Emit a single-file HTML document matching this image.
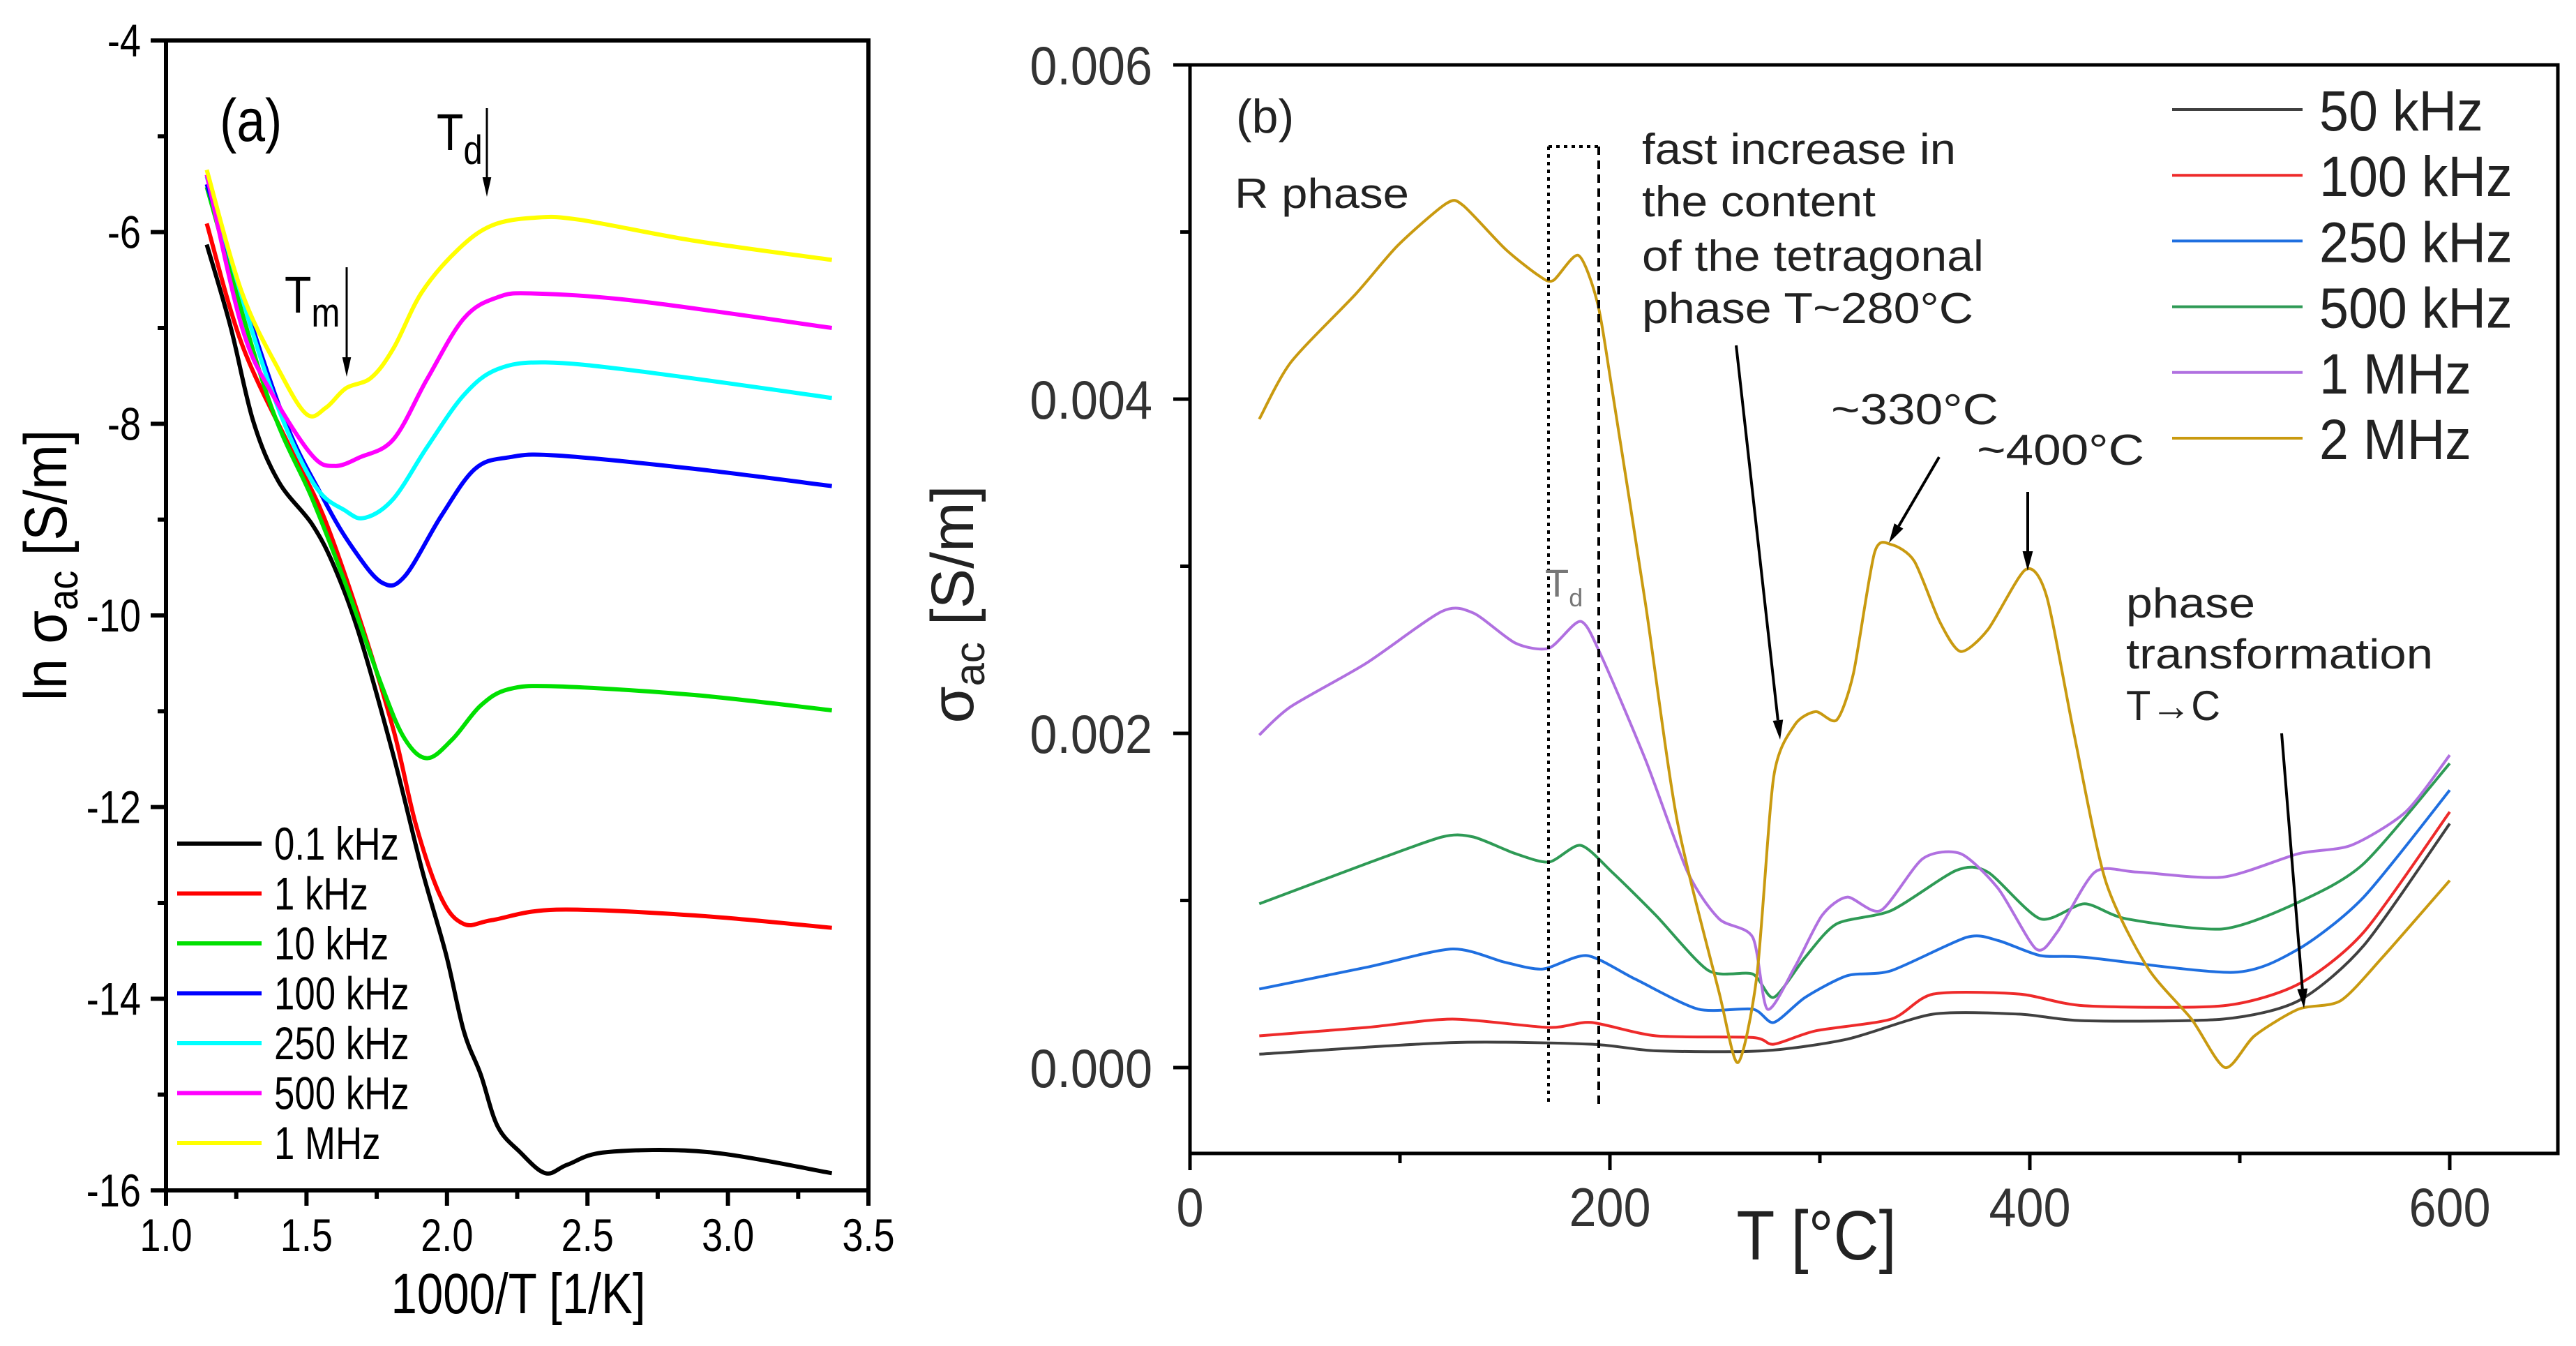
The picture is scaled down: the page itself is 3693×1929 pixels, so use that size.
<!DOCTYPE html>
<html><head><meta charset="utf-8"><style>
html,body{margin:0;padding:0;background:#fff;}
svg{display:block;font-family:"Liberation Sans",sans-serif;}
</style></head><body>
<svg id="fig" width="3693" height="1929" viewBox="0 0 3693 1929" xmlns="http://www.w3.org/2000/svg">
<rect width="3693" height="1929" fill="#fff"/>
<g id="pa"></g>
<g id="pb"></g>
</svg>
<script>
// ---------- Panel (a) data ----------
const aSeriesNames = ["0.1 kHz","1 kHz","10 kHz","100 kHz","250 kHz","500 kHz","1 MHz"];
const aColors = ["#000000","#ff0000","#00e000","#0000ff","#00ffff","#ff00ff","#ffff00"];
const aXTicks = [1.0,1.5,2.0,2.5,3.0,3.5];
const aYTicks = [-4,-6,-8,-10,-12,-14,-16];
const aBlackX = [1.145,1.23,1.31,1.40,1.52,1.60,1.69,1.81,1.91,1.996,2.06,2.12,2.18,2.26,2.35,2.43,2.57,2.93,3.37];
const aBlackY = [-6.13,-6.99,-7.97,-8.6,-9.05,-9.5,-10.22,-11.47,-12.64,-13.53,-14.34,-14.79,-15.33,-15.6,-15.82,-15.73,-15.6,-15.6,-15.82];
const aRedX = [1.145,1.27,1.44,1.56,1.69,1.81,1.89,1.98,2.06,2.16,2.39,2.88,3.37];
const aRedY = [-5.91,-7.17,-8.24,-8.96,-10.04,-11.2,-12.19,-12.95,-13.22,-13.18,-13.07,-13.13,-13.26];
const aGreenX = [1.145,1.36,1.52,1.64,1.77,1.85,1.93,2.02,2.12,2.22,2.39,2.88,3.37];
const aGreenY = [-5.53,-7.70,-8.78,-9.68,-10.75,-11.29,-11.49,-11.29,-10.94,-10.77,-10.74,-10.83,-10.99];
const aBlueX = [1.145,1.40,1.56,1.67,1.77,1.85,1.98,2.10,2.22,2.39,2.88,3.37];
const aBlueY = [-5.5,-7.79,-8.78,-9.32,-9.66,-9.59,-8.96,-8.47,-8.35,-8.33,-8.47,-8.65];
const aCyanX = [1.145,1.36,1.52,1.64,1.71,1.81,1.93,2.06,2.18,2.35,2.68,3.37];
const aCyanY = [-5.42,-7.52,-8.6,-8.91,-8.98,-8.78,-8.24,-7.70,-7.43,-7.36,-7.45,-7.73];
const aMagX = [1.145,1.27,1.38,1.52,1.60,1.69,1.81,1.93,2.06,2.18,2.31,2.68,3.37];
const aMagY = [-5.4,-6.99,-7.70,-8.33,-8.44,-8.35,-8.16,-7.53,-6.90,-6.68,-6.64,-6.72,-7.0];
const aYelX = [1.145,1.27,1.40,1.50,1.57,1.64,1.73,1.81,1.91,2.04,2.16,2.31,2.47,2.88,3.37];
const aYelY = [-5.35,-6.63,-7.43,-7.9,-7.83,-7.63,-7.52,-7.21,-6.63,-6.18,-5.93,-5.85,-5.87,-6.09,-6.29];

// ---------- Panel (b) data ----------
const bSeriesNames = ["50 kHz","100 kHz","250 kHz","500 kHz","1 MHz","2 MHz"];
const bColors = ["#404040","#ee2a2a","#1f6fe0","#2e9a55","#b070e0","#c99a10"];
const bXTicks = [0,200,400,600];
const bYTicks = [0.000,0.002,0.004,0.006];
const b50X = [33,125,191,222,273,313,354,395,426,492,528,559,600];
const b50Y = [0.08,0.15,0.14,0.10,0.10,0.17,0.32,0.32,0.28,0.29,0.40,0.73,1.46];
const b100X = [33,84,125,171,191,222,268,278,298,334,354,395,426,492,528,559,600];
const b100Y = [0.19,0.24,0.29,0.24,0.27,0.19,0.18,0.14,0.22,0.29,0.44,0.44,0.37,0.37,0.50,0.81,1.53];
const b250X = [33,84,125,150,168,189,212,242,268,278,293,313,334,370,385,405,426,497,528,559,600];
const b250Y = [0.47,0.60,0.71,0.63,0.59,0.67,0.53,0.35,0.35,0.27,0.42,0.55,0.58,0.78,0.76,0.67,0.66,0.57,0.71,1.02,1.66];
const b500X = [33,84,120,135,155,171,186,201,222,247,268,278,293,308,334,365,380,405,426,446,492,528,559,600];
const b500Y = [0.98,1.22,1.38,1.38,1.28,1.23,1.33,1.17,0.91,0.58,0.56,0.42,0.66,0.86,0.94,1.18,1.17,0.89,0.98,0.89,0.83,0.99,1.22,1.82];
const b1MX = [33,48,84,120,135,155,171,186,196,217,237,252,268,275,288,301,313,329,349,367,385,403,413,431,451,492,528,553,579,600];
const b1MY = [1.99,2.16,2.42,2.73,2.72,2.54,2.51,2.67,2.46,1.84,1.17,0.89,0.78,0.35,0.60,0.91,1.02,0.94,1.25,1.28,1.07,0.71,0.81,1.17,1.17,1.14,1.28,1.33,1.53,1.87];
const b2MX = [33,48,79,99,122,130,150,166,173,185,194,201,217,232,252,261,270,278,288,298,308,316,326,334,345,357,367,380,398,408,421,436,456,477,493,507,528,548,568,600];
const b2MY = [3.88,4.22,4.63,4.92,5.17,5.16,4.90,4.74,4.71,4.86,4.58,4.06,2.77,1.48,0.45,0.03,0.55,1.74,2.05,2.13,2.08,2.36,3.08,3.13,3.03,2.67,2.49,2.62,2.98,2.82,2.00,1.12,0.60,0.29,0.0,0.19,0.35,0.40,0.66,1.12];

const NS="http://www.w3.org/2000/svg";
function mk(parent,tag,attrs,text){const e=document.createElementNS(NS,tag);for(const k in attrs)e.setAttribute(k,attrs[k]);if(text!==undefined)e.textContent=text;parent.appendChild(e);return e;}
// condensed text helper
function ctext(parent,x,y,s,size,sx,anchor,fill){return mk(parent,'text',{x:0,y:0,'font-size':size,'text-anchor':anchor||'start',fill:fill||'#000',transform:`translate(${x},${y}) scale(${sx},1)`},s);}
function smoothPath(xs,ys,fx,fy,k){k=k||6;let pts=xs.map((x,i)=>[fx(x),fy(ys[i])]);let d='M'+pts[0][0].toFixed(1)+','+pts[0][1].toFixed(1);
for(let i=0;i<pts.length-1;i++){const p0=pts[Math.max(0,i-1)],p1=pts[i],p2=pts[i+1],p3=pts[Math.min(pts.length-1,i+2)];
const c1=[p1[0]+(p2[0]-p0[0])/k,p1[1]+(p2[1]-p0[1])/k],c2=[p2[0]-(p3[0]-p1[0])/k,p2[1]-(p3[1]-p1[1])/k];
d+=' C'+c1.map(v=>v.toFixed(1)).join(',')+' '+c2.map(v=>v.toFixed(1)).join(',')+' '+p2.map(v=>v.toFixed(1)).join(',');}return d;}
function arrow(parent,x1,y1,x2,y2,w,name){const g=mk(parent,'g',{});


const ang=Math.atan2(y2-y1,x2-x1),L=28,W=w*2.2+6;
const bx=x2-L*Math.cos(ang),by=y2-L*Math.sin(ang);
mk(g,'line',{x1:x1,y1:y1,x2:bx,y2:by,stroke:'#000','stroke-width':w});
mk(g,'polygon',{points:`${x2},${y2} ${bx+W/2*Math.sin(ang)},${by-W/2*Math.cos(ang)} ${bx-W/2*Math.sin(ang)},${by+W/2*Math.cos(ang)}`,fill:'#000'});}

// ===== Panel A =====
const pa=document.getElementById('pa');
const aL=238,aR=1245,aT=58,aB=1706;
const ax=v=>aL+(v-1.0)/2.5*(aR-aL);
const ay=v=>aT+(-4-v)/12*(aB-aT);
let r=mk(pa,'rect',{x:aL,y:aT,width:aR-aL,height:aB-aT,fill:'none',stroke:'#000','stroke-width':6});


for(let v=1.0;v<=3.501;v+=0.25){const major=Math.abs(v*2-Math.round(v*2))<1e-6;const t=mk(pa,'line',{x1:ax(v),x2:ax(v),y1:aB,y2:aB+(major?22:12),stroke:'#000','stroke-width':6});

}
aXTicks.forEach(v=>{const t=ctext(pa,ax(v),1793,v.toFixed(1),66,0.82,'middle');

});
for(let v=-16;v<=-4;v+=1){const major=v%2===0;const t=mk(pa,'line',{x1:aL-(major?22:12),x2:aL,y1:ay(v),y2:ay(v),stroke:'#000','stroke-width':6});

}
aYTicks.forEach(v=>{const t=ctext(pa,202,ay(v)+23,String(v),66,0.82,'end');

});
let tt=ctext(pa,743,1882,'1000/T [1/K]',82,0.82,'middle');


tt=mk(pa,'text',{x:0,y:0,'font-size':86,'text-anchor':'middle',transform:'translate(95,810) rotate(-90) scale(0.9,1)'});


tt.innerHTML='ln σ<tspan font-size="60" dy="16">ac</tspan><tspan dy="-16"> [S/m]</tspan>';
const aXs=[aBlackX,aRedX,aGreenX,aBlueX,aCyanX,aMagX,aYelX];
const aYs=[aBlackY,aRedY,aGreenY,aBlueY,aCyanY,aMagY,aYelY];
aXs.forEach((xs,i)=>{const p=mk(pa,'path',{d:smoothPath(xs,aYs[i],ax,ay),fill:'none',stroke:aColors[i],'stroke-width':6,'stroke-linejoin':'round'});

});
aSeriesNames.forEach((n,i)=>{const y=1209+i*71.5;const g=mk(pa,'g',{});


mk(g,'line',{x1:254,x2:375,y1:y,y2:y,stroke:aColors[i],'stroke-width':6});
ctext(g,393,y+23,n,66,0.8,'start');});
tt=ctext(pa,315,202,'(a)',86,0.85,'start');


tt=mk(pa,'text',{x:0,y:0,'font-size':74,transform:'translate(408,448) scale(0.85,1)'});tt.innerHTML='T<tspan font-size="58" dy="20">m</tspan>';


arrow(pa,497,383,497,540,3,'tm-arrow');
tt=mk(pa,'text',{x:0,y:0,'font-size':74,transform:'translate(626,215) scale(0.85,1)'});tt.innerHTML='T<tspan font-size="58" dy="20">d</tspan>';


arrow(pa,698,155,698,282,3,'td-arrow-a');

// ===== Panel B =====
const pb=document.getElementById('pb');
const bL=1706,bR=3667,bT=93,bB=1653;
const bx=v=>bL+v/600*(3512-bL);
const by=v=>1530-v/0.002*((1530-93)/3);
r=mk(pb,'rect',{x:bL,y:bT,width:bR-bL,height:bB-bT,fill:'none',stroke:'#000','stroke-width':5});


for(let v=0;v<=600;v+=100){const major=v%200===0;const t=mk(pb,'line',{x1:bx(v),x2:bx(v),y1:bB,y2:bB+(major?24:14),stroke:'#000','stroke-width':5});

}
bXTicks.forEach(v=>{const t=ctext(pb,bx(v),1757,String(v),78,0.9,'middle','#333');

});
for(let i=0;i<=6;i++){const v=i*0.001;const major=i%2===0;const t=mk(pb,'line',{x1:bL-(major?24:14),x2:bL,y1:by(v),y2:by(v),stroke:'#000','stroke-width':5});

}
bYTicks.forEach(v=>{const t=ctext(pb,1652,by(v)+28,v.toFixed(3),78,0.9,'end','#333');

});
tt=ctext(pb,2604,1805,'T [°C]',100,0.9,'middle','#222');


tt=mk(pb,'text',{x:0,y:0,'font-size':86,'text-anchor':'middle',fill:'#222',transform:'translate(1395,866) rotate(-90)'});
tt.innerHTML='σ<tspan font-size="60" dy="16">ac</tspan><tspan dy="-16"> [S/m]</tspan>';


const bXs=[b50X,b100X,b250X,b500X,b1MX,b2MX];
const bYs=[b50Y,b100Y,b250Y,b500Y,b1MY,b2MY];
const byk=v=>by(v/1000);
bXs.forEach((xs,i)=>{const p=mk(pb,'path',{d:smoothPath(xs,bYs[i],bx,byk,8),fill:'none',stroke:bColors[i],'stroke-width':4,'stroke-linejoin':'round'});

});
bSeriesNames.forEach((n,i)=>{const y=157+i*94.2;const g=mk(pb,'g',{});


mk(g,'line',{x1:3114,x2:3301,y1:y,y2:y,stroke:bColors[i],'stroke-width':4});
ctext(g,3325,y+30,n,82,0.92,'start','#222');});
// dotted box
const box=mk(pb,'g',{});


mk(box,'line',{x1:2220,y1:210,x2:2220,y2:1583,stroke:'#000','stroke-width':4,'stroke-dasharray':'5 6'});
mk(box,'line',{x1:2292,y1:210,x2:2292,y2:1583,stroke:'#000','stroke-width':4,'stroke-dasharray':'12 8'});
mk(box,'line',{x1:2220,y1:210,x2:2292,y2:210,stroke:'#000','stroke-width':4,'stroke-dasharray':'5 6'});
function txt(x,y,s,size,name,len,fill){const t=mk(pb,'text',{x:x,y:y,'font-size':size,fill:fill||'#222'},s);
if(len){t.setAttribute('textLength',len);t.setAttribute('lengthAdjust','spacingAndGlyphs');}

return t;}
txt(1772,190,'(b)',68,'panel-label-b');
txt(1770,298,'R phase',60,'r-phase-label',250);
txt(2354,235,'fast increase in',62,'annotation-line-1',450);
txt(2354,310,'the content',62,'annotation-line-2',335);
txt(2354,388,'of the tetragonal',62,'annotation-line-3',490);
txt(2354,463,'phase T~280°C',62,'annotation-line-4',475);
txt(2625,608,'~330°C',62,'label-330',240);
txt(2834,666,'~400°C',62,'label-400',240);
txt(3048,885,'phase',60,'phase-label-1',185);
txt(3048,958,'transformation',60,'phase-label-2',440);
txt(3048,1032,'T→C',60,'phase-label-3',135);
tt=mk(pb,'text',{x:2215,y:855,'font-size':56,fill:'#777'});tt.innerHTML='T<tspan font-size="36" dy="14">d</tspan>';


arrow(pb,2489,495,2552,1060,4,'arrow-280');
arrow(pb,2780,655,2708,778,4,'arrow-330');
arrow(pb,2907,705,2907,818,4,'arrow-400');
arrow(pb,3271,1051,3303,1445,4,'arrow-phase');
</script>
</body></html>
